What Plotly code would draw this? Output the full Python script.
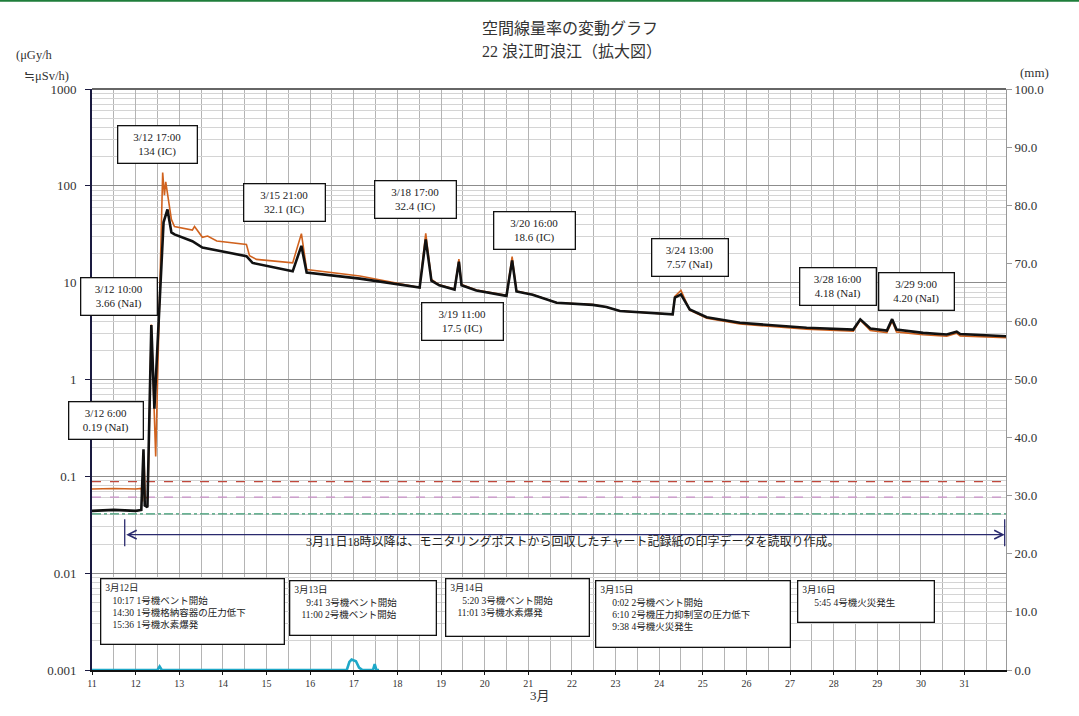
import math
import plotly.graph_objects as go

# ---------------- data ----------------
# IC detector (orange) - day of March (fractional), uGy/h
T_IC = [11.00, 11.50, 12.00, 12.13, 12.16, 12.19, 12.22, 12.28, 12.36, 12.46, 12.62, 12.66, 12.69, 12.82, 12.89,
        13.30, 13.35, 13.53, 13.65, 13.86, 14.54, 14.61, 14.77, 15.60, 15.80, 15.92, 17.14, 18.51, 18.65, 18.78,
        18.96, 19.31, 19.41, 19.47, 19.81, 20.50, 20.63, 20.73, 21.10, 21.33, 21.65, 22.48, 22.79, 23.10, 24.02,
        24.31, 24.36, 24.50, 24.70, 25.09, 25.85, 26.61, 27.38, 28.45, 28.61, 28.84, 29.22, 29.34, 29.44, 30.05,
        30.59, 30.82, 30.90, 31.95]
V_IC = [0.074, 0.075, 0.074, 0.075, 0.055, 0.16, 0.06, 0.06, 3.7, 0.16, 137, 80, 110, 45, 38,
        34.9, 38, 29.4, 30.3, 26.9, 24.8, 19, 17.4, 16, 32.1, 13.7, 11.7, 8.9, 32.4, 10.8,
        9.5, 8.6, 17.5, 9.6, 8.4, 7.4, 18.6, 8.2, 7.55, 7.0, 6.2, 5.95, 5.6, 5.1, 4.8,
        4.7, 7.2, 8.3, 5.2, 4.3, 3.75, 3.5, 3.3, 3.15, 4.1, 3.2, 3.05, 4.0, 3.1, 2.9,
        2.8, 3.0, 2.82, 2.7]

# NaI detector (black)
T_NAI = [11.00, 11.50, 12.00, 12.13, 12.18, 12.21, 12.27, 12.36, 12.43, 12.64, 12.73, 12.78, 12.82, 12.89,
         13.30, 13.53, 14.54, 14.68, 15.60, 15.80, 15.92, 17.14, 18.51, 18.65, 18.78, 18.96, 19.31, 19.41, 19.47,
         19.81, 20.50, 20.63, 20.73, 21.10, 21.33, 21.65, 22.48, 22.79, 23.10, 24.02, 24.31, 24.36, 24.50, 24.70,
         25.09, 25.85, 26.61, 27.38, 28.45, 28.61, 28.84, 29.22, 29.34, 29.44, 30.05, 30.59, 30.82, 30.90, 31.95]
V_NAI = [0.044, 0.045, 0.044, 0.045, 0.19, 0.05, 0.048, 3.66, 0.5, 42, 57, 40, 33, 31.5,
         26.8, 23, 18.8, 16, 13.1, 24, 12.7, 11.0, 8.9, 28, 10.5, 9.4, 8.5, 16.5, 9.4,
         8.3, 7.3, 17, 8.1, 7.5, 6.9, 6.2, 5.9, 5.6, 5.1, 4.8, 4.7, 7.0, 7.57, 5.3,
         4.4, 3.85, 3.6, 3.42, 3.28, 4.18, 3.36, 3.2, 4.2, 3.28, 3.03, 2.92, 3.12, 2.95, 2.8]

# rainfall (mm), right axis
T_RAIN = [11.00, 12.50, 12.55, 12.60, 16.84, 16.90, 16.95, 17.05, 17.12, 17.20, 17.44, 17.48, 17.52, 17.58]
V_RAIN = [0.0, 0.0, 0.6, 0.0, 0.0, 1.4, 1.8, 1.5, 0.4, 0.0, 0.0, 1.0, 0.0, 0.0]

# reference levels (uGy/h)
REF_LEVELS = [0.088, 0.061, 0.041]
REF_COLORS = ["#c0483c", "#c890c8", "#3a9a72"]
REF_DASH = ["dash", "dash", "dashdot"]

X_RANGE = [11, 31.95]
NOTE_START, NOTE_END, NOTE_Y = 11.75, 31.92, 0.025
NOTE_TICK = [0.036, 0.019]

# peak labels: (text, x day, log10 y centre, box width)
PEAK_LABELS = [
    ("3/12 17:00<br>134 (IC)", 12.50, 2.43, 72),
    ("3/15 21:00<br>32.1 (IC)", 15.42, 1.83, 74),
    ("3/18 17:00<br>32.4 (IC)", 18.42, 1.86, 74),
    ("3/20 16:00<br>18.6 (IC)", 21.15, 1.54, 74),
    ("3/24 13:00<br>7.57 (NaI)", 24.71, 1.26, 69),
    ("3/28 16:00<br>4.18 (NaI)", 28.10, 0.96, 69),
    ("3/29 9:00<br>4.20 (NaI)", 29.89, 0.91, 68),
    ("3/19 11:00<br>17.5 (IC)", 19.50, 0.60, 74),
    ("3/12 10:00<br>3.66 (NaI)", 11.62, 0.86, 69),
    ("3/12 6:00<br>0.19 (NaI)", 11.33, -0.42, 67),
]

S = "\u00a0"
EVENTS = [
    ("3月12日<br>" + S * 3 + "10:17 1号機ベント開始<br>" + S * 3 + "14:30 1号機格納容器の圧力低下<br>" + S * 3 + "15:36 1号機水素爆発",
     100, 578, 185, 67),
    ("3月13日<br>" + S * 5 + "9:41 3号機ベント開始<br>" + S * 3 + "11:00 2号機ベント開始", 289, 580, 148, 56),
    ("3月14日<br>" + S * 5 + "5:20 3号機ベント開始<br>" + S * 3 + "11:01 3号機水素爆発", 445, 578, 145, 59),
    ("3月15日<br>" + S * 5 + "0:02 2号機ベント開始<br>" + S * 5 + "6:10 2号機圧力抑制室の圧力低下<br>" + S * 5 + "9:38 4号機火災発生",
     595, 580, 196, 68),
    ("3月16日<br>" + S * 5 + "5:45 4号機火災発生", 797, 580, 138, 43),
]

# ---------------- layout geometry ----------------
W, H = 1079, 716
L, R, T, B = 92, 73, 89, 46
PW, PH = W - L - R, H - T - B

def px_x(px):
    return (px - L) / PW

def px_y(py):
    return (H - B - py) / PH

FONT = "Liberation Serif, Noto Sans CJK JP, serif"

fig = go.Figure()

for lvl, col, dash in zip(REF_LEVELS, REF_COLORS, REF_DASH):
    fig.add_trace(go.Scatter(x=X_RANGE, y=[lvl, lvl], mode="lines",
                             line=dict(color=col, width=1.3, dash=dash), hoverinfo="skip"))

fig.add_trace(go.Scatter(x=T_IC, y=V_IC, mode="lines", line=dict(color="#d0621e", width=1.6)))
fig.add_trace(go.Scatter(x=T_NAI, y=V_NAI, mode="lines", line=dict(color="#111111", width=2.6)))
fig.add_trace(go.Scatter(x=T_RAIN, y=V_RAIN, mode="lines", yaxis="y2",
                         line=dict(color="#1ea8c8", width=2.6)))

# end ticks of the note arrow
fig.add_trace(go.Scatter(x=[NOTE_START, NOTE_START, None, NOTE_END, NOTE_END],
                         y=[NOTE_TICK[0], NOTE_TICK[1], None, NOTE_TICK[0], NOTE_TICK[1]],
                         mode="lines", line=dict(color="#2a2a6e", width=1.3), hoverinfo="skip"))

annotations = []
for txt, xd, yl, bw in PEAK_LABELS:
    annotations.append(dict(x=xd, y=yl, xref="x", yref="y", text=txt, showarrow=False,
                            font=dict(family=FONT, size=11, color="#222"),
                            bgcolor="white", bordercolor="#111", borderwidth=1.3, borderpad=3,
                            width=bw, height=30, align="center", valign="middle"))

for txt, lx, ty, bw, bh in EVENTS:
    annotations.append(dict(x=px_x(lx), y=px_y(ty), xref="paper", yref="paper", xanchor="left", yanchor="top",
                            text=txt, showarrow=False, font=dict(family=FONT, size=9.5, color="#222"),
                            bgcolor="white", bordercolor="#111", borderwidth=1.3, borderpad=4,
                            width=bw - 11, height=bh - 11, align="left", valign="top"))

# double-headed note arrow
annotations.append(dict(x=NOTE_END, y=math.log10(NOTE_Y), ax=NOTE_START, ay=math.log10(NOTE_Y),
                        xref="x", yref="y", axref="x", ayref="y", text="", showarrow=True,
                        arrowside="end+start", arrowhead=5, startarrowhead=5, arrowsize=1.3,
                        startarrowsize=1.3, arrowwidth=1.3, arrowcolor="#2a2a6e", standoff=0, startstandoff=0))
annotations.append(dict(x=px_x(572), y=px_y(551), xref="paper", yref="paper", showarrow=False,
                        text="3月11日18時以降は、モニタリングポストから回収したチャート記録紙の印字データを読取り作成。",
                        font=dict(family=FONT, size=12, color="#222")))

# titles and axis captions
annotations.append(dict(x=px_x(570), y=px_y(18), xref="paper", yref="paper", showarrow=False,
                        text="空間線量率の変動グラフ", font=dict(family=FONT, size=16, color="#333")))
annotations.append(dict(x=px_x(572), y=px_y(41), xref="paper", yref="paper", showarrow=False,
                        text="22 浪江町浪江（拡大図）", font=dict(family=FONT, size=16, color="#333")))
annotations.append(dict(x=px_x(14), y=px_y(46), xref="paper", yref="paper", xanchor="left", showarrow=False,
                        text="(μGy/h", font=dict(family=FONT, size=12.5, color="#333")))
annotations.append(dict(x=px_x(22), y=px_y(67), xref="paper", yref="paper", xanchor="left", showarrow=False,
                        text="≒μSv/h)", font=dict(family=FONT, size=12.5, color="#333")))
annotations.append(dict(x=px_x(1051), y=px_y(63), xref="paper", yref="paper", showarrow=False,
                        text="(mm)", font=dict(family=FONT, size=13, color="#333")))
annotations.append(dict(x=px_x(540), y=px_y(705), xref="paper", yref="paper", showarrow=False,
                        text="3月", font=dict(family=FONT, size=13, color="#333")))

fig.update_layout(
    width=W, height=H, margin=dict(l=L, r=R, t=T, b=B),
    paper_bgcolor="white", plot_bgcolor="white", showlegend=False,
    annotations=annotations,
    shapes=[dict(type="line", xref="paper", yref="paper", x0=-0.2, x1=1.2, y0=px_y(0.8), y1=px_y(0.8),
                 line=dict(color="#1e7d3a", width=2))],
    xaxis=dict(range=X_RANGE, tick0=11, dtick=1, showgrid=True, gridcolor="#b4b4b4", gridwidth=1,
               minor=dict(dtick=0.5, tick0=11, showgrid=True, gridcolor="#b4b4b4", gridwidth=1),
               zeroline=False, showline=True, linecolor="#111", linewidth=2, mirror=False,
               ticks="outside", ticklen=3, tickcolor="#111",
               tickfont=dict(family=FONT, size=10, color="#333")),
    yaxis=dict(type="log", range=[-3, 3], dtick=1, exponentformat="none", showgrid=True,
               gridcolor="#8c8c8c", gridwidth=1,
               minor=dict(dtick="D1", showgrid=True, gridcolor="#d4d4d4", gridwidth=1),
               zeroline=False, showline=True, linecolor="#1a1a40", linewidth=2,
               ticks="outside", ticklen=5, tickcolor="#1a1a40", ticklabelstandoff=6,
               tickfont=dict(family=FONT, size=13, color="#333")),
    yaxis2=dict(overlaying="y", side="right", range=[0, 100], dtick=10, tickformat=".1f",
                showgrid=False, zeroline=False, showline=True, linecolor="#999", linewidth=1,
                ticks="outside", ticklen=5, tickcolor="#999",
                tickfont=dict(family=FONT, size=13, color="#333")),
)
fig.add_shape(type="line", xref="paper", yref="paper", x0=0, x1=1, y0=1, y1=1,
              line=dict(color="#666", width=2))

fig.write_html("out.html", config={"displayModeBar": False},
               post_script="document.body.style.margin='0';")
